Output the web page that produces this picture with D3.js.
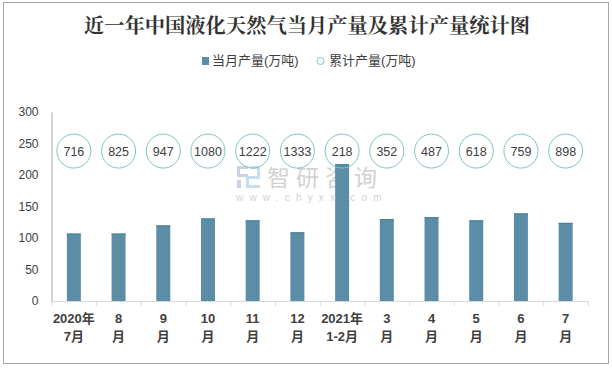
<!DOCTYPE html>
<html>
<head>
<meta charset="utf-8">
<script src="https://cdn.jsdelivr.net/npm/d3@7"></script>
<style>
	html, body { margin: 0; padding: 0; background: #fff; }
	svg { display: block; }
</style>
</head>
<body>
<div id="chart"></div>
<script>
const w = 612, h = 368;
const title = '近一年中国液化天然气当月产量及累计产量统计图';
const months = ['2020年|7月', '8|月', '9|月', '10|月', '11|月', '12|月', '2021年|1-2月', '3|月', '4|月', '5|月', '6|月', '7|月'];
const monthly = [107, 107, 120, 131, 128, 109, 217, 130, 133, 128, 139, 124];
const cumulative = [716, 825, 947, 1080, 1222, 1333, 218, 352, 487, 618, 759, 898];
const yTicks = [0, 50, 100, 150, 200, 250, 300];
const legendNames = ['当月产量(万吨)', '累计产量(万吨)'];
const circleLevel = 238; // the circles all sit on one level of the left axis

const latin = 'Liberation Sans, "Noto Sans CJK SC", sans-serif';
const barColor = '#5d90a8';
const circleColor = '#7ac8c2';

const svg = d3.select('#chart').append('svg')
	.attr('width', w)
	.attr('height', h)
	.attr('viewBox', [0, 0, w, h]);

const defs = svg.append('defs');
const dots = defs.append('pattern')
	.attr('id', 'bar-dots')
	.attr('width', 4)
	.attr('height', 4)
	.attr('patternUnits', 'userSpaceOnUse');
dots.append('rect').attr('width', 4).attr('height', 4).style('fill', barColor);
dots.append('rect').attr('x', 0).attr('y', 0).attr('width', 1).attr('height', 1).style('fill', '#4d8199');
dots.append('rect').attr('x', 2).attr('y', 2).attr('width', 1).attr('height', 1).style('fill', '#4d8199');

// outer frame
svg.append('rect')
	.attr('x', 3.5)
	.attr('y', 2.5)
	.attr('width', 605)
	.attr('height', 361)
	.style('fill', '#fff')
	.style('stroke', '#a6a6a6');

svg.append('text')
	.attr('x', 307)
	.attr('y', 33)
	.style('text-anchor', 'middle')
	.style('font-family', '"Noto Serif CJK SC", "Noto Sans CJK SC", serif')
	.style('font-size', '20.3px')
	.style('font-weight', 'bold')
	.style('fill', '#333')
	.text(title);

// legend
const legend = svg.append('g');
legend.append('rect')
	.attr('x', 202)
	.attr('y', 57)
	.attr('width', 7)
	.attr('height', 8)
	.style('fill', 'url(#bar-dots)');
legend.append('circle')
	.attr('cx', 320.5)
	.attr('cy', 61)
	.attr('r', 3.5)
	.style('fill', '#fff')
	.style('stroke', circleColor)
	.style('stroke-width', 1);
legend.selectAll('text')
	.data(legendNames)
	.join('text')
	.attr('x', (d, i) => i ? 329 : 212)
	.attr('y', 65)
	.style('font-family', latin)
	.style('font-size', '13px')
	.style('fill', '#404040')
	.text(d => d);

const x = d3.scaleBand(months, [51.5, 588]);
const y = d3.scaleLinear([0, 300], [301, 112]);

// watermark
const mark = svg.append('g').attr('class', 'watermark');
mark.append('text')
	.attr('x', 267)
	.attr('y', 186)
	.style('font-family', '"Noto Sans CJK SC", sans-serif')
	.style('font-size', '23px')
	.style('letter-spacing', '6px')
	.style('fill', '#d2d2d2')
	.text('智研咨询');
mark.append('text')
	.attr('x', 236)
	.attr('y', 201)
	.style('font-family', latin)
	.style('font-size', '10px')
	.style('letter-spacing', '6.2px')
	.style('fill', '#d2d2d2')
	.text('www.chyxx.com');
mark.append('path')
	.attr('d', 'M237 166h11v3h-8v5h8v3h-11zM237 180h4v8h-4z')
	.style('fill', '#c9d2e2');
mark.append('path')
	.attr('d', 'M250 166h10v13h-11v6h11v3h-14v-12h11v-7h-7z')
	.style('fill', '#c6deef');

svg.append('g')
	.selectAll('rect')
	.data(monthly)
	.join('rect')
	.attr('x', (d, i) => x(months[i]) + x.bandwidth() / 2 - 7)
	.attr('y', d => y(d))
	.attr('width', 14)
	.attr('height', d => y(0) - y(d))
	.style('fill', 'url(#bar-dots)')
	.style('stroke', 'none');

// thin darker cap on each bar
svg.append('g')
	.selectAll('line')
	.data(monthly)
	.join('line')
	.attr('x1', (d, i) => x(months[i]) + x.bandwidth() / 2 - 7)
	.attr('x2', (d, i) => x(months[i]) + x.bandwidth() / 2 + 7)
	.attr('y1', d => y(d) + 0.5)
	.attr('y2', d => y(d) + 0.5)
	.style('stroke', '#4a7d96');

// left axis
const yAxis = svg.append('g')
	.attr('transform', 'translate(51.5,0)')
	.call(d3.axisLeft(y).tickValues(yTicks).tickSize(0).tickPadding(13));
yAxis.select('.domain').style('stroke', '#a6a6a6');
yAxis.selectAll('text')
	.attr('dy', '0.32em')
	.style('font-family', latin)
	.style('font-size', '12px')
	.style('fill', '#404040');

// bottom axis, ticks sit on the band edges
const edges = months.map(d => x(d)).concat(x.range()[1]);
const xAxis = svg.append('g');
xAxis.append('line')
	.attr('x1', x.range()[0])
	.attr('x2', x.range()[1])
	.attr('y1', y(0) + 0.5)
	.attr('y2', y(0) + 0.5)
	.style('stroke', '#d9d9d9');
xAxis.selectAll('line.tick')
	.data(edges)
	.join('line')
	.attr('class', 'tick')
	.attr('x1', d => d + 0.5)
	.attr('x2', d => d + 0.5)
	.attr('y1', y(0))
	.attr('y2', y(0) + 5)
	.style('stroke', '#d9d9d9');

const labels = xAxis.selectAll('text')
	.data(months)
	.join('text')
	.attr('x', d => x(d) + x.bandwidth() / 2)
	.style('text-anchor', 'middle')
	.style('font-family', latin)
	.style('font-size', '13px')
	.style('font-weight', 'bold')
	.style('fill', '#404040');
labels.selectAll('tspan')
	.data(d => d.split('|'))
	.join('tspan')
	.attr('x', function () { return d3.select(this.parentNode).attr('x'); })
	.attr('y', (d, i) => i ? 341 : 323)
	.text(d => d);

// cumulative circles with their labels
const circles = svg.append('g')
	.selectAll('g')
	.data(cumulative)
	.join('g')
	.attr('transform', (d, i) => `translate(${[ x(months[i]) + x.bandwidth() / 2, y(circleLevel) ]})`);
circles.append('circle')
	.attr('r', 17)
	.style('fill', 'none')
	.style('stroke', circleColor)
	.style('stroke-width', 1);
circles.append('text')
	.attr('dy', '0.36em')
	.style('text-anchor', 'middle')
	.style('font-family', latin)
	.style('font-size', '12.5px')
	.style('fill', '#404040')
	.text(d => d);
</script>
</body>
</html>
